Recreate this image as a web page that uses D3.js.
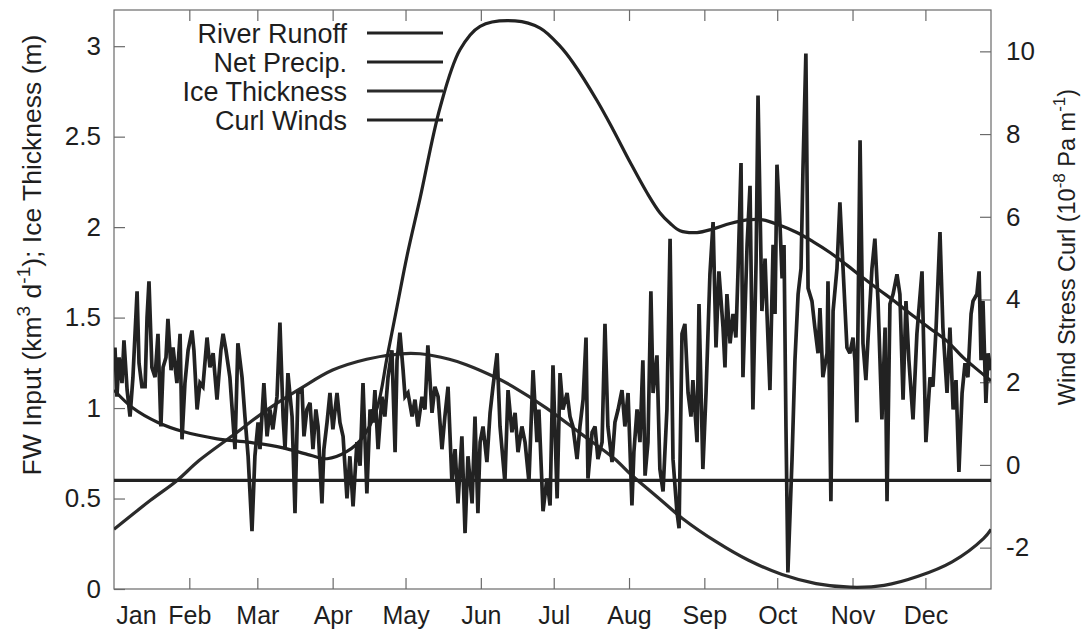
<!DOCTYPE html>
<html>
<head>
<meta charset="utf-8">
<script src="https://cdn.jsdelivr.net/npm/d3@7"></script>
<style>
  html, body { margin: 0; padding: 0; background: #fff; }
  svg { display: block; }
  text { font-family: "Liberation Sans", Arial, Helvetica, sans-serif; fill: #1e1e1e; }
</style>
</head>
<body>
<svg id="chart" width="1087" height="638"></svg>
<script>
// Month labels and the day of year each month starts on
const months = ["Jan", "Feb", "Mar", "Apr", "May", "Jun", "Jul", "Aug", "Sep", "Oct", "Nov", "Dec"];
const monthStartDays = [0, 31, 59, 90, 120, 151, 181, 212, 243, 273, 304, 334];

const leftTicks = [0, 0.5, 1, 1.5, 2, 2.5, 3];
const rightTicks = [-2, 0, 2, 4, 6, 8, 10];

// River runoff (km^3/d), by day of year
const runoffDays = [0, 7.8, 18.1, 28.4, 42.4, 56, 69.6, 80.7, 87.7, 95.9, 102.5, 108.3, 112.4, 116.5, 120.6, 126, 134.2, 142.4, 150.7, 165.1, 175.4, 183.6, 188.9, 198.8, 205.4, 212.4, 219.4, 224.7, 229, 233, 240, 246.6, 253.6, 260.6, 267.1, 274.1, 281.1, 287.7, 294.7, 301.7, 308.3, 315.3, 322.3, 328.9, 335.9, 342.9, 349.5, 356.5, 361];
const runoffValues = [1.10, 1.00, 0.92, 0.87, 0.83, 0.81, 0.78, 0.74, 0.72, 0.76, 0.84, 1.00, 1.28, 1.56, 1.84, 2.16, 2.66, 2.98, 3.11, 3.14, 3.10, 3.00, 2.91, 2.70, 2.54, 2.36, 2.19, 2.08, 2.02, 1.98, 1.97, 1.99, 2.02, 2.04, 2.04, 2.01, 1.97, 1.92, 1.86, 1.79, 1.72, 1.65, 1.58, 1.51, 1.44, 1.37, 1.28, 1.20, 1.15];

// Net precipitation (km^3/d)
const precipDays = [0, 361];
const precipValues = [0.6, 0.6];

// Ice thickness (m)
const iceDays = [0, 15, 26, 35, 49, 63, 77, 90, 104, 118, 126, 138, 145, 157, 164, 178, 192, 206, 213, 220, 227, 234, 248, 261, 275, 289, 303, 317, 331, 345, 358, 361];
const iceValues = [0.33, 0.49, 0.60, 0.71, 0.85, 0.99, 1.11, 1.21, 1.27, 1.30, 1.30, 1.27, 1.24, 1.17, 1.12, 1.00, 0.86, 0.72, 0.63, 0.55, 0.47, 0.39, 0.26, 0.16, 0.08, 0.03, 0.01, 0.02, 0.07, 0.15, 0.28, 0.33];

// Wind stress curl (1e-8 Pa/m), right axis
const curlDays = [0.4, 1.2, 2.1, 3.3, 4.1, 5.4, 6.6, 7.8, 9.5, 10.3, 11.5, 12.8, 13.6, 14.4, 15.6, 16.9, 18.1, 19.3, 20.2, 21.4, 22.2, 23.5, 24.3, 25.9, 27.2, 28.0, 29.2, 30.5, 32.1, 32.9, 34.2, 35.4, 36.6, 38.3, 39.5, 40.8, 42.4, 44.0, 44.9, 46.1, 47.7, 49.8, 51.0, 52.7, 53.9, 55.2, 56.8, 58.0, 59.3, 60.1, 61.7, 63.0, 64.2, 65.4, 67.1, 68.3, 69.6, 70.4, 71.6, 73.3, 74.5, 75.7, 77.4, 78.2, 79.4, 80.7, 81.9, 83.1, 84.0, 85.6, 86.4, 87.7, 88.9, 90.1, 91.8, 93.0, 94.3, 95.9, 97.1, 98.4, 100.0, 101.3, 102.5, 104.1, 105.4, 106.6, 107.4, 108.7, 110.3, 111.5, 112.8, 114.4, 115.7, 116.5, 117.7, 119.0, 119.8, 121.0, 122.7, 123.9, 125.1, 126.8, 128.0, 129.2, 130.9, 132.1, 133.4, 135.0, 136.2, 137.5, 139.1, 140.4, 141.6, 143.2, 144.5, 145.7, 147.4, 148.6, 149.8,
  150.7, 151.9, 153.5, 154.8, 156.0, 157.7, 158.9, 160.9, 162.2, 163.8, 165.1, 166.3, 167.9, 169.2, 170.8, 172.5, 174.1, 174.9, 176.6, 178.2, 179.5, 180.7, 182.4, 183.6, 184.8, 186.5, 187.7, 188.9, 190.6, 191.8, 193.1, 194.3, 195.1, 196.8, 198.0, 199.2, 200.9, 202.1, 203.3, 205.0, 206.2, 207.5, 209.1, 210.3, 211.6, 213.2, 214.0, 215.3, 216.5, 217.7, 218.6, 219.8, 221.0, 221.9, 223.5, 224.7, 226.0, 227.6, 228.9, 230.1, 231.7, 232.6, 233.8, 235.0, 236.3, 237.5, 238.3, 240.0, 240.8, 242.4, 243.7, 245.3, 246.6, 247.8, 249.0, 250.7, 251.5, 252.3, 253.6, 254.8, 256.0, 256.9, 258.1, 258.9, 260.6, 261.8, 263.0, 264.3, 265.1, 266.7, 268.0, 268.8, 270.0, 271.3, 272.1, 272.9, 274.1, 275.0, 275.8, 276.6, 277.4, 279.1, 280.3, 281.6, 282.8, 283.6, 284.8, 285.7, 287.3, 288.5, 289.8, 290.6, 291.8, 293.5, 293.9, 295.1, 296.0, 297.6, 298.8, 300.1, 301.7, 302.9, 304.2, 305.0, 305.8, 307.1, 308.3, 309.5, 310.4, 312.0, 313.2, 314.5, 316.1, 317.4, 318.2, 319.4, 320.7, 322.3, 323.5, 324.8, 326.0, 327.2, 328.9, 330.5, 332.6, 334.2, 335.9, 337.1, 338.4, 340.0, 341.2, 342.9, 344.1, 345.4, 346.6, 347.8, 349.1, 350.3, 351.5, 352.8, 353.6, 355.2, 356.1, 356.9, 357.7, 358.9, 359.8, 361.0];
const curlValues = [2.84, 1.65, 2.60, 1.98, 3.01, 1.81, 1.17, 2.12, 4.20, 2.46, 1.89, 1.89, 3.56, 4.44, 2.36, 2.12, 3.17, 0.93, 2.36, 2.60, 3.53, 2.29, 2.84, 1.98, 3.17, 0.62, 1.98, 2.77, 3.25, 2.77, 1.34, 1.98, 1.89, 3.08, 2.36, 2.70, 1.58, 2.77, 3.17, 2.77, 2.12, 0.38, 2.94, 2.12, 1.17, 0.21, -1.60, 0.21, 1.03, 0.38, 1.98, 0.69, 1.34, 0.86, 1.65, 3.44, 1.17, 0.38, 2.22, 1.17, -1.17, 1.74, 1.81, 0.69, 1.34, 1.50, 0.38, 1.34, 0.93, -0.93, 0.38, 1.03, 1.74, 0.86, 1.74, 1.03, 0.69, -0.81, 0.21, -1.00, 0.55, -0.02, 1.98, -0.69, 1.34, 1.03, 1.81, 0.38, 1.65, 1.17, 2.12, 2.77, 0.31, 2.53, 3.20, 2.29, 1.65, 1.74, 1.17, 1.58, 0.93, 1.65, 1.34, 2.89, 1.26, 1.89, 1.65, 0.38, 1.17, 1.89, -0.41, 0.38, -0.93, 0.69, -1.65, 0.21, -0.93, 1.17, -1.17,
  0.55, 0.93, 0.07, 1.26, 1.89, 2.70, 0.93, -0.41, 1.81, 0.79, 1.26, 0.31, 0.93, 0.55, -0.41, 2.29, 0.55, 1.34, -1.12, -0.33, -0.98, 2.41, -0.81, 2.22, 1.34, 1.74, 1.17, 0.93, 0.14, 0.93, 1.58, 3.08, -0.33, 0.79, 0.93, 0.14, 0.55, 3.41, 0.93, 0.07, 1.03, 1.34, 1.81, 0.93, 1.74, -0.98, 0.31, 1.34, 0.55, 2.53, -0.26, 0.55, 4.20, 1.74, 2.65, -0.10, -0.64, 1.34, 5.47, 0.14, -1.12, -1.53, 3.17, 3.41, 1.74, 1.17, 2.05, 0.55, 3.89, -0.10, 1.74, 4.61, 5.87, 2.84, 4.68, 3.32, 2.36, 4.13, 2.94, 3.65, 3.08, 4.75, 7.30, 2.12, 5.32, 6.75, 1.34, 4.92, 8.93, 3.72, 4.99, 3.65, 1.81, 5.32, 3.65, 7.26, 5.87, 4.51, 5.32, 0.93, -2.60, 0.14, 2.53, 4.13, 4.75, 7.14, 9.95, 4.27, 3.96, 3.32, 2.70, 3.79, 2.12, 2.70, 4.44, -0.88, 3.72, 4.75, 6.35, 4.75, 2.84, 2.70, 3.08, 2.53, 1.03, 7.85, 2.94, 2.05, 3.08, 4.75, 5.47, 3.96, 1.10, 3.32, -0.88, 3.89, 4.13, 4.61, 4.13, 1.58, 3.96, 2.53, 1.10, 3.17, 4.68, 0.55, 2.12, 1.89, 3.32, 5.63, 3.32, 1.74, 3.32, 1.34, 2.05, -0.17, 1.74, 2.46, 2.12, 3.65, 3.96, 4.13, 4.68, 2.53, 3.96, 1.50, 2.70, 2.29];

const legendLabels = ["River Runoff", "Net Precip.", "Ice Thickness", "Curl Winds"];

// Layout
const W = 1087, H = 638;
const plot = { left: 114, right: 991, top: 10, bottom: 589 };
const ink = "#222222";
const axisGray = "#6a6a6a";
const fontStack = '"Liberation Sans", Arial, Helvetica, sans-serif';

const svg = d3.select("#chart");
svg.append("rect").attr("width", W).attr("height", H).attr("fill", "#fff");

const x = d3.scaleLinear().domain([0, 361]).range([plot.left, plot.right]);
const yL = d3.scaleLinear().domain([0, 3.2]).range([plot.bottom, plot.top]);
const yR = d3.scaleLinear().domain([-3, 11]).range([plot.bottom, plot.top]);

const zip = (xs, ys) => xs.map((d, i) => [d, ys[i]]);

// Plot frame
svg.append("rect")
  .attr("x", plot.left).attr("y", plot.top)
  .attr("width", plot.right - plot.left).attr("height", plot.bottom - plot.top)
  .attr("fill", "none").attr("stroke", axisGray).attr("stroke-width", 1.2);

function styleAxis(g, fontSize) {
  g.select(".domain").remove();
  g.selectAll(".tick line").attr("stroke", axisGray).attr("stroke-width", 1.2);
  g.selectAll(".tick text").attr("font-size", fontSize)
    .attr("font-family", fontStack).attr("fill", "#1e1e1e");
}

// Left axis
svg.append("g").attr("transform", `translate(${plot.left},0)`)
  .call(d3.axisLeft(yL).tickValues(leftTicks).tickFormat(d => String(d))
    .tickSizeInner(-11).tickSizeOuter(0).tickPadding(13))
  .call(g => styleAxis(g, 26));

// Right axis
svg.append("g").attr("transform", `translate(${plot.right},0)`)
  .call(d3.axisRight(yR).tickValues(rightTicks).tickFormat(d => String(d))
    .tickSizeInner(-11).tickSizeOuter(0).tickPadding(15))
  .call(g => styleAxis(g, 26));

// Bottom axis (months); the January label is nudged clear of the "0"
svg.append("g").attr("transform", `translate(0,${plot.bottom})`)
  .call(d3.axisBottom(x).tickValues(monthStartDays).tickFormat((d, i) => months[i])
    .tickSizeInner(-11).tickSizeOuter(0).tickPadding(17))
  .call(g => styleAxis(g, 25))
  .call(g => {
    const first = g.selectAll(".tick").filter(d => d === 0);
    first.select("line").remove();
    first.select("text").attr("x", 22);
  });

// Top axis: tick marks only
svg.append("g").attr("transform", `translate(0,${plot.top})`)
  .call(d3.axisTop(x).tickValues(monthStartDays.slice(1)).tickFormat("")
    .tickSizeInner(-11).tickSizeOuter(0))
  .call(g => styleAxis(g, 25));

// Axis titles
const leftTitle = svg.append("text")
  .attr("transform", "translate(41,255) rotate(-90)")
  .attr("text-anchor", "middle").attr("font-size", 26.5);
leftTitle.append("tspan").text("FW Input (km");
leftTitle.append("tspan").attr("font-size", 19).attr("dy", -11).text("3");
leftTitle.append("tspan").attr("dy", 11).text(" d");
leftTitle.append("tspan").attr("font-size", 19).attr("dy", -11).text("-1");
leftTitle.append("tspan").attr("dy", 11).text("); Ice Thickness (m)");

const rightTitle = svg.append("text")
  .attr("transform", "translate(1075,247) rotate(-90)")
  .attr("text-anchor", "middle").attr("font-size", 23.5);
rightTitle.append("tspan").text("Wind Stress Curl (10");
rightTitle.append("tspan").attr("font-size", 17).attr("dy", -10).text("-8");
rightTitle.append("tspan").attr("dy", 10).text(" Pa m");
rightTitle.append("tspan").attr("font-size", 17).attr("dy", -10).text("-1");
rightTitle.append("tspan").attr("dy", 10).text(")");

// Series
const clipId = "plot-clip";
svg.append("clipPath").attr("id", clipId).append("rect")
  .attr("x", plot.left).attr("y", plot.top)
  .attr("width", plot.right - plot.left).attr("height", plot.bottom - plot.top);
const layer = svg.append("g").attr("clip-path", `url(#${clipId})`);

const smoothL = d3.line().x(d => x(d[0])).y(d => yL(d[1])).curve(d3.curveCatmullRom.alpha(0.5));
const straightL = d3.line().x(d => x(d[0])).y(d => yL(d[1]));
const straightR = d3.line().x(d => x(d[0])).y(d => yR(d[1]));

layer.append("path").datum(zip(iceDays, iceValues)).attr("d", smoothL)
  .attr("fill", "none").attr("stroke", "#2b2b2b").attr("stroke-width", 3.2);
layer.append("path").datum(zip(runoffDays, runoffValues)).attr("d", smoothL)
  .attr("fill", "none").attr("stroke", ink).attr("stroke-width", 3.2);
layer.append("path").datum(zip(precipDays, precipValues)).attr("d", straightL)
  .attr("fill", "none").attr("stroke", ink).attr("stroke-width", 3.2);
layer.append("path").datum(zip(curlDays, curlValues)).attr("d", straightR)
  .attr("fill", "none").attr("stroke", ink).attr("stroke-width", 3.7)
  .attr("stroke-linejoin", "miter").attr("stroke-miterlimit", 3);

// Legend
const legend = svg.append("g");
legendLabels.forEach((label, i) => {
  const yy = 33 + i * 29;
  legend.append("text").attr("x", 347).attr("y", yy).attr("dy", "0.36em")
    .attr("text-anchor", "end").attr("font-size", 27).text(label);
  legend.append("line").attr("x1", 367).attr("x2", 443).attr("y1", yy).attr("y2", yy)
    .attr("stroke", i === 2 ? "#2b2b2b" : ink).attr("stroke-width", 3.2);
});
</script>
</body>
</html>
